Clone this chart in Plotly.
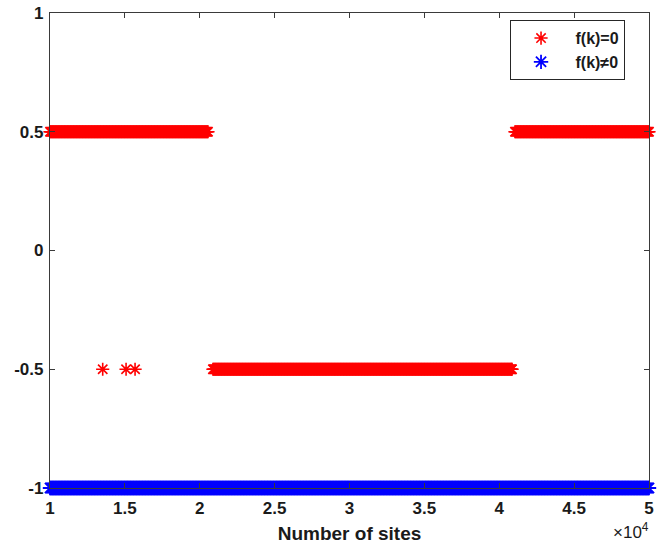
import plotly.graph_objects as go

# Sites with f(k)=0 and state 0.5, as (start, end) site ranges
half_pos_start = [10000, 41050]
half_pos_end = [20550, 50000]
# Sites with f(k)=0 and state -0.5
half_neg_start = [13520, 15080, 15680, 20880]
half_neg_end = [13520, 15080, 15680, 40850]
# Sites with f(k)!=0 and state -1
minus_one_start = [10000]
minus_one_end = [50000]

site_step = 50

x_ticks = [10000, 15000, 20000, 25000, 30000, 35000, 40000, 45000, 50000]
x_tick_text = ["1", "1.5", "2", "2.5", "3", "3.5", "4", "4.5", "5"]
y_ticks = [-1, -0.5, 0, 0.5, 1]
y_tick_text = ["-1", "-0.5", "0", "0.5", "1"]


def expand(starts, ends, value):
    """List every sampled site inside each (start, end) range."""
    xs = []
    for s, e in zip(starts, ends):
        xs.extend(range(s, e + 1, site_step))
        if xs[-1] != e:
            xs.append(e)
    return xs, [value] * len(xs)


x_pos, y_pos = expand(half_pos_start, half_pos_end, 0.5)
x_neg, y_neg = expand(half_neg_start, half_neg_end, -0.5)
x_red = x_pos + x_neg
y_red = y_pos + y_neg
x_blue, y_blue = expand(minus_one_start, minus_one_end, -1)

marker_red = dict(symbol="asterisk-open", size=11, color="#ff0000",
                  line=dict(color="#ff0000", width=1.6))
marker_blue = dict(symbol="asterisk-open", size=12, color="#0000ff",
                   line=dict(color="#0000ff", width=1.8))

pad = "\u00a0"
fig = go.Figure()
fig.add_trace(go.Scatter(x=x_red, y=y_red, mode="markers",
                         name=pad + "f(k)=0",
                         marker=marker_red, cliponaxis=False))
fig.add_trace(go.Scatter(x=x_blue, y=y_blue, mode="markers",
                         name=pad + "f(k)≠0",
                         marker=marker_blue, cliponaxis=False))

axis_color = "#3a3a3a"
text_color = "#1a1a1a"
tick_font = dict(family="Liberation Sans", size=17, color=text_color, weight="bold")

fig.update_layout(
    width=665, height=545,
    margin=dict(l=50, r=16, t=13, b=57, autoexpand=False),
    paper_bgcolor="white", plot_bgcolor="white",
    font=dict(family="Liberation Sans", color=text_color),
    showlegend=True,
    legend=dict(
        x=0.768, y=0.985, xanchor="left", yanchor="top",
        bgcolor="white", bordercolor="#262626", borderwidth=1,
        font=dict(family="Liberation Sans", size=16, color=text_color, weight="bold"),
        itemwidth=50, tracegroupgap=0,
    ),
    xaxis=dict(
        range=[10000, 50000], tickvals=x_ticks, ticktext=x_tick_text,
        showgrid=False, zeroline=False, showline=True, linecolor=axis_color,
        linewidth=1.3, mirror="ticks", ticks="inside", ticklen=5,
        tickcolor=axis_color, tickwidth=1, tickfont=tick_font,
        ticklabelstandoff=4, automargin=False,
        title=dict(text="Number of sites", standoff=10,
                   font=dict(family="Liberation Sans", size=19, color=text_color,
                             weight="bold")),
    ),
    yaxis=dict(
        range=[-1, 1], tickvals=y_ticks, ticktext=y_tick_text,
        showgrid=False, zeroline=False, showline=True, linecolor=axis_color,
        linewidth=1.3, mirror="ticks", ticks="inside", ticklen=5,
        tickcolor=axis_color, tickwidth=1, tickfont=tick_font,
        ticklabelstandoff=2, automargin=False,
    ),
)

fig.add_annotation(
    text="×10<sup>4</sup>", x=1.0, y=0, xref="paper", yref="paper",
    xanchor="right", yanchor="bottom", yshift=-56, xshift=2, showarrow=False,
    font=dict(family="Liberation Sans", size=17, color=text_color),
)

fig.write_html("out.html")
